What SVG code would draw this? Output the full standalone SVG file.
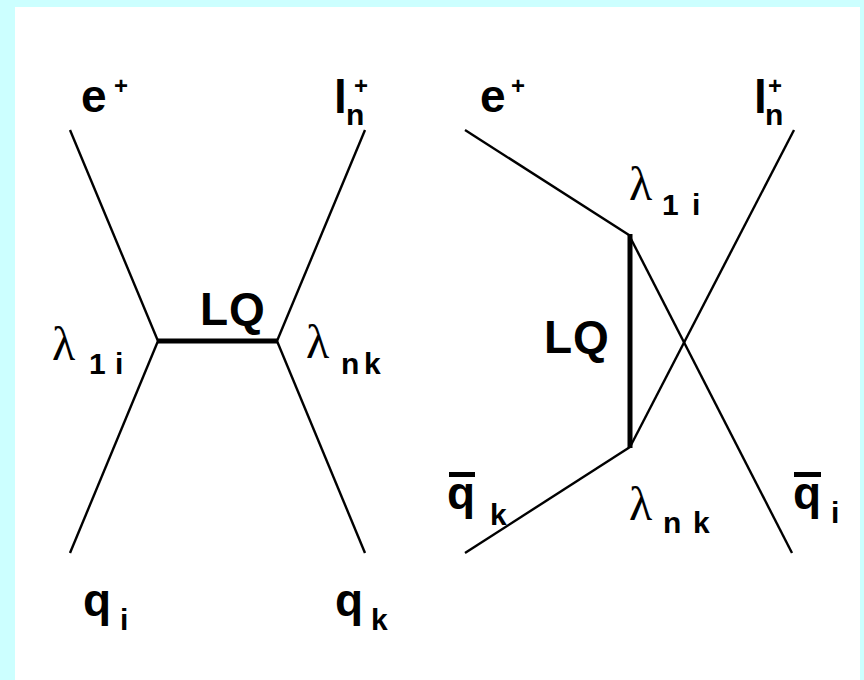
<svg xmlns="http://www.w3.org/2000/svg" width="864" height="680" viewBox="0 0 864 680">
<style>
.ln{stroke:#000;stroke-width:2.4;fill:none;stroke-linecap:butt}
.lq{stroke:#000;stroke-width:5;fill:none}
.bar{stroke:#000;stroke-width:5}
.m{font-family:"Liberation Sans",Arial,sans-serif;font-weight:bold;font-size:46px;fill:#000}
.s{font-family:"Liberation Sans",Arial,sans-serif;font-weight:bold;font-size:30px;fill:#000}
.p{font-family:"Liberation Sans",Arial,sans-serif;font-weight:bold;font-size:24px;fill:#000;text-anchor:middle}
.l{font-family:"Liberation Serif","Times New Roman",serif;font-size:48px;fill:#000}
</style>
<rect x="0" y="0" width="864" height="680" fill="#ccffff"/>
<rect x="15" y="7" width="845" height="673" fill="#ffffff"/>
<g id="connectors">
<line class="ln" x1="70" y1="130" x2="158" y2="341"/>
<line class="ln" x1="365" y1="130" x2="277" y2="341"/>
<line class="ln" x1="158" y1="341" x2="70" y2="553"/>
<line class="ln" x1="277" y1="341" x2="365" y2="553"/>
<line class="lq" x1="157" y1="341" x2="278" y2="341"/>
<line class="ln" x1="465" y1="130" x2="629" y2="235"/>
<line class="ln" x1="629" y1="235" x2="792" y2="553"/>
<line class="ln" x1="794" y1="130" x2="630" y2="447"/>
<line class="ln" x1="630" y1="447" x2="465" y2="553"/>
<line class="lq" x1="630" y1="234" x2="630" y2="448"/>
</g>
<g id="left-e">
<text class="m" x="81" y="112">e</text><text class="p" x="121" y="94">+</text>
</g>
<g id="left-l">
<text class="m" x="334" y="113">l</text><text class="p" x="361" y="94">+</text><text class="s" x="346" y="125">n</text>
</g>
<g id="left-LQ">
<text class="m" x="200" y="325" letter-spacing="1">LQ</text>
</g>
<g id="left-lambda1i">
<text class="l" x="52" y="360">λ</text><text class="s" x="89" y="374">1</text><text class="s" x="115" y="374">i</text>
</g>
<g id="left-lambdank">
<text class="l" x="306" y="358">λ</text><text class="s" x="341" y="374">n</text><text class="s" x="364" y="374">k</text>
</g>
<g id="left-qi">
<text class="m" x="83" y="616">q</text><text class="s" x="120" y="630">i</text>
</g>
<g id="left-qk">
<text class="m" x="335" y="616">q</text><text class="s" x="371" y="630">k</text>
</g>
<g id="right-e">
<text class="m" x="480" y="112">e</text><text class="p" x="518" y="94">+</text>
</g>
<g id="right-l">
<text class="m" x="754" y="113">l</text><text class="p" x="775" y="94">+</text><text class="s" x="765" y="125">n</text>
</g>
<g id="right-lambda1i">
<text class="l" x="629" y="200">λ</text><text class="s" x="662" y="215">1</text><text class="s" x="692" y="215">i</text>
</g>
<g id="right-LQ">
<text class="m" x="544" y="353" letter-spacing="1">LQ</text>
</g>
<g id="right-qbark">
<line class="bar" x1="449" y1="474.5" x2="475" y2="474.5"/>
<text class="m" x="447" y="509">q</text><text class="s" x="490" y="525">k</text>
</g>
<g id="right-lambdank">
<text class="l" x="629" y="520">λ</text><text class="s" x="663" y="533">n</text><text class="s" x="693" y="533">k</text>
</g>
<g id="right-qbari">
<line class="bar" x1="794" y1="474.5" x2="821" y2="474.5"/>
<text class="m" x="793" y="509">q</text><text class="s" x="831" y="523">i</text>
</g>
</svg>
